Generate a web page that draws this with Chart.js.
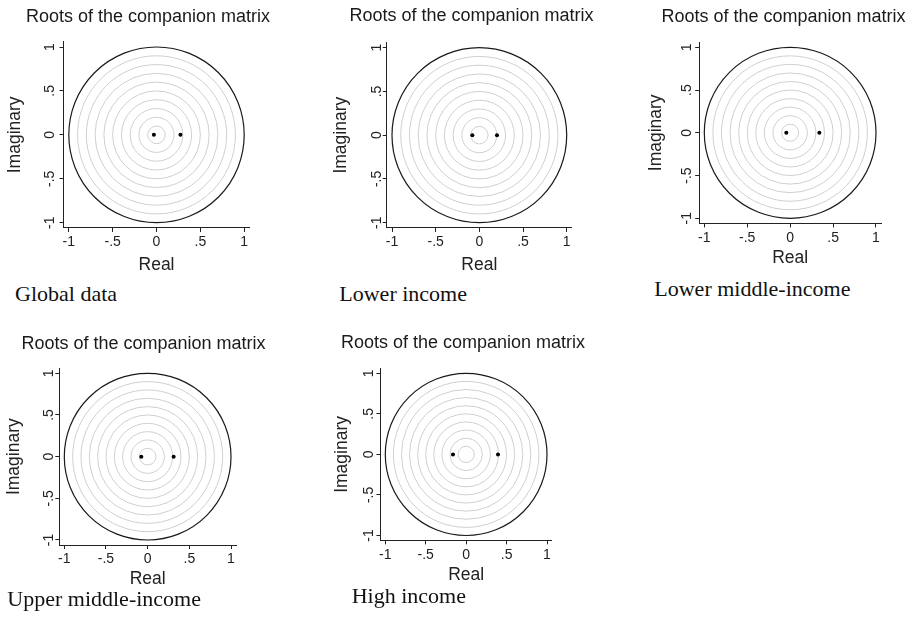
<!DOCTYPE html>
<html>
<head>
<meta charset="utf-8">
<script src="https://cdn.jsdelivr.net/npm/chart.js@4/dist/chart.umd.min.js"></script>
<style>
  html, body { margin: 0; padding: 0; background: #fff; overflow: hidden; }
  body { width: 914px; height: 618px; position: relative; }
  canvas { position: absolute; }
  .caption {
    position: absolute;
    font-family: "Liberation Serif", "Times New Roman", serif;
    font-size: 22px;
    line-height: 22px;
    color: #111;
    white-space: nowrap;
  }
</style>
</head>
<body>
<script>
// ---- data ----
const panelNames = ['Global data', 'Lower income', 'Lower middle-income', 'Upper middle-income', 'High income'];
const rootRealA  = [-0.03, -0.08, -0.045, -0.076, -0.163];
const rootRealB  = [0.273, 0.202, 0.34, 0.312, 0.394];
const rootImagA  = [0, 0, 0, 0, 0];
const rootImagB  = [0, 0, 0, 0, 0];
const tickValues = [-1, -0.5, 0, 0.5, 1];
const tickLabels = ['-1', '-.5', '0', '.5', '1'];
const ringRadii  = [0.1, 0.2, 0.3, 0.4, 0.5, 0.6, 0.7, 0.8, 0.9];
const unitRadius = 1;
const axisLimit  = 1.06;
const chartTitle = 'Roots of the companion matrix';
const xTitle = 'Real';
const yTitle = 'Imaginary';

// ---- where each panel sits on the page (px of tick -1 / +1, title centre, caption) ----
const panelBoxes = [
  { x1: 68.8,  x2: 244.2, yT: 47.0,  yB: 222.7, titleX: 148.0, titleY: 16.7,  imagOff: 48.0, tickOff: 13, realOff: 37, capX: 15.0,  capBase: 301.7 },
  { x1: 392.0, x2: 566.7, yT: 47.7,  yB: 222.7, titleX: 471.7, titleY: 15.7,  imagOff: 45.6, tickOff: 10, realOff: 37, capX: 339.3, capBase: 301.7 },
  { x1: 704.3, x2: 876.0, yT: 47.3,  yB: 218.3, titleX: 783.7, titleY: 16.7,  imagOff: 42.6, tickOff: 12, realOff: 35, capX: 654.3, capBase: 296.7 },
  { x1: 64.3,  x2: 231.0, yT: 373.3, yB: 540.0, titleX: 143.7, titleY: 343.3, imagOff: 44.3, tickOff: 10, realOff: 34, capX: 7.3,   capBase: 606.7 },
  { x1: 385.3, x2: 547.0, yT: 373.3, yB: 535.5, titleX: 463.0, titleY: 342.7, imagOff: 38.0, tickOff: 11, realOff: 35, capX: 351.7, capBase: 603.3 }
];

const TITLE_SIZE = 18;
const AXIS_TITLE_SIZE = 17.5;

Chart.defaults.font.family = '"Liberation Sans", Arial, sans-serif';
Chart.defaults.color = '#222';

// concentric reference circles + unit circle, drawn in data units
const ringsPlugin = {
  id: 'rings',
  beforeDatasetsDraw(chart) {
    const { ctx, scales: { x, y } } = chart;
    const cx = x.getPixelForValue(0), cy = y.getPixelForValue(0);
    const ring = (r, color, width) => {
      ctx.beginPath();
      ctx.ellipse(cx, cy, x.getPixelForValue(r) - cx, cy - y.getPixelForValue(r), 0, 0, Math.PI * 2);
      ctx.strokeStyle = color;
      ctx.lineWidth = width;
      ctx.stroke();
    };
    ctx.save();
    ringRadii.forEach(r => ring(r, '#cfcfcf', 1));
    ring(unitRadius, '#1a1a1a', 1.2);
    ctx.restore();
  }
};

// Stata-style vertical tick labels on the y axis
const yTickTextPlugin = {
  id: 'yTickText',
  afterDraw(chart, args, opts) {
    const { ctx } = chart;
    const y = chart.scales.y;
    ctx.save();
    ctx.font = '14px "Liberation Sans", Arial, sans-serif';
    ctx.fillStyle = '#222';
    ctx.textAlign = 'center';
    ctx.textBaseline = 'middle';
    y.ticks.forEach((t, i) => {
      ctx.save();
      ctx.translate(y.right - opts.offset, y.getPixelForTick(i));
      ctx.rotate(-Math.PI / 2);
      ctx.fillText(tickLabels[tickValues.indexOf(t.value)], 0, 0);
      ctx.restore();
    });
    ctx.restore();
  }
};

const fixedTicks = s => { s.ticks = tickValues.map(v => ({ value: v })); };

panelBoxes.forEach((b, i) => {
  const ux = (b.x2 - b.x1) / 2, uy = (b.yB - b.yT) / 2;
  const pad = axisLimit - 1;
  const L = b.x1 - pad * ux, R = b.x2 + pad * ux;
  const T = b.yT - pad * uy, B = b.yB + pad * uy;
  const titleLH = TITLE_SIZE * 1.2, axisLH = AXIS_TITLE_SIZE * 1.2;

  const left = Math.round(L - b.imagOff - axisLH / 2);
  const top = Math.round(b.titleY - titleLH / 2);
  const Wy = L - left;
  const W = R - L;
  // title is centred on the whole canvas, so the canvas is centred on the title
  const cw = Math.round(2 * (b.titleX - left));
  const Wr = cw - Wy - W;
  const ch = Math.ceil(B - top + b.realOff + axisLH / 2);
  const Hx = ch - (B - top);
  const titleGap = T - top - titleLH;

  const canvas = document.createElement('canvas');
  canvas.width = cw;
  canvas.height = ch;
  canvas.style.left = left + 'px';
  canvas.style.top = top + 'px';
  document.body.appendChild(canvas);

  new Chart(canvas, {
    type: 'scatter',
    data: {
      datasets: [{
        data: [
          { x: rootRealA[i], y: rootImagA[i] },
          { x: rootRealB[i], y: rootImagB[i] }
        ],
        backgroundColor: '#000',
        borderWidth: 0,
        pointRadius: 2
      }]
    },
    options: {
      responsive: false,
      animation: false,
      events: [],
      layout: { padding: 0 },
      plugins: {
        legend: { display: false },
        tooltip: { enabled: false },
        title: {
          display: true,
          text: chartTitle,
          color: '#1a1a1a',
          font: { size: TITLE_SIZE, weight: 'normal' },
          padding: { top: 0, bottom: titleGap }
        },
        yTickText: { offset: b.tickOff }
      },
      scales: {
        x: {
          type: 'linear',
          min: -axisLimit,
          max: axisLimit,
          afterBuildTicks: fixedTicks,
          afterFit: s => { s.height = Hx; },
          ticks: {
            autoSkip: false, maxRotation: 0, minRotation: 0, padding: 2,
            color: '#222', font: { size: 14 },
            callback: v => tickLabels[tickValues.indexOf(v)]
          },
          grid: { drawOnChartArea: false, drawTicks: true, tickLength: 4, color: '#222' },
          border: { color: '#222', width: 1 },
          title: { display: true, text: xTitle, color: '#222', font: { size: AXIS_TITLE_SIZE }, padding: 0 }
        },
        y: {
          type: 'linear',
          min: -axisLimit,
          max: axisLimit,
          afterBuildTicks: fixedTicks,
          afterFit: s => { s.width = Wy; },
          ticks: { display: false },
          grid: { drawOnChartArea: false, drawTicks: true, tickLength: 4, color: '#222' },
          border: { color: '#222', width: 1 },
          title: { display: true, text: yTitle, color: '#222', font: { size: AXIS_TITLE_SIZE }, padding: 0 }
        },
        y2: {
          type: 'linear',
          position: 'right',
          afterFit: s => { s.width = Wr; },
          ticks: { display: false },
          grid: { display: false },
          border: { display: false }
        }
      }
    },
    plugins: [ringsPlugin, yTickTextPlugin]
  });

  const cap = document.createElement('div');
  cap.className = 'caption';
  cap.textContent = panelNames[i];
  cap.style.left = b.capX + 'px';
  cap.style.top = (b.capBase - 18.4) + 'px';
  document.body.appendChild(cap);
});
</script>
</body>
</html>
